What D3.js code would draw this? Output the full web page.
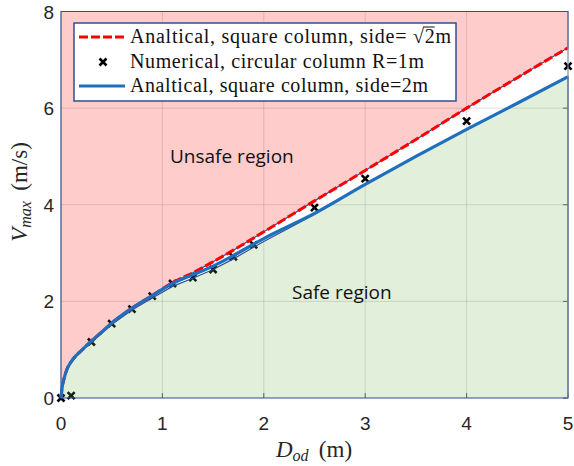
<!DOCTYPE html>
<html>
<head>
<meta charset="utf-8">
<script src="https://cdn.jsdelivr.net/npm/d3@7"></script>
<style>
  body { margin: 0; background: #fff; }
  svg { display: block; }
</style>
</head>
<body>
<div id="chart"></div>
<script>
// Données
const dCourbe = [0, 0.01, 0.03, 0.06, 0.1, 0.15, 0.2, 0.3, 0.4, 0.5, 0.7, 0.9, 1.1, 1.3, 1.5, 1.7, 2, 2.5, 3, 3.5, 4, 4.5, 5];
const vCarreRacine2 = [0, 0.2, 0.4, 0.6, 0.75, 0.88, 0.98, 1.18, 1.36, 1.55, 1.86, 2.12, 2.39, 2.59, 2.82, 3.06, 3.44, 4.08, 4.71, 5.35, 6.0, 6.63, 7.25];
const vCarre2 = [0, 0.2, 0.4, 0.6, 0.75, 0.88, 0.98, 1.18, 1.36, 1.55, 1.86, 2.12, 2.37, 2.55, 2.73, 2.95, 3.3, 3.82, 4.42, 5.0, 5.56, 6.1, 6.65];
const vBordSur = [0, 0.2, 0.4, 0.6, 0.75, 0.88, 0.98, 1.16, 1.34, 1.52, 1.82, 2.07, 2.31, 2.48, 2.66, 2.88, 3.24, 3.8, 4.42, 5.0, 5.56, 6.1, 6.65];
const dNum = [0, 0.1, 0.3, 0.5, 0.7, 0.9, 1.1, 1.3, 1.5, 1.7, 1.9, 2.5, 3, 4, 5];
const vNum = [0, 0.05, 1.16, 1.54, 1.84, 2.11, 2.37, 2.49, 2.66, 2.92, 3.17, 3.94, 4.54, 5.73, 6.87];
const xTicks = [0, 1, 2, 3, 4, 5];
const yTicks = [0, 2, 4, 6, 8];
const legende = ["Analtical, square column, side= ", "Numerical, circular column R=1m", "Analtical, square column, side=2m"];

const W = 574, H = 466;
const bord = "#2f4f94";

const svg = d3.select("#chart").append("svg").attr("width", W).attr("height", H);

const x = d3.scaleLinear().domain([0, 5]).range([61, 568]);
const y = d3.scaleLinear().domain([0, 8]).range([398, 11.5]);

const pts = (xs, ys) => xs.map((d, i) => [d, ys[i]]);

// grille
const g = svg.append("g");
g.selectAll(".gx").data(xTicks.slice(1, -1)).enter().append("line")
    .attr("x1", d => x(d)).attr("x2", d => x(d)).attr("y1", y(0)).attr("y2", y(8))
    .attr("stroke", "#000").attr("stroke-opacity", 0.13).attr("stroke-width", 1);
g.selectAll(".gy").data(yTicks.slice(1, -1)).enter().append("line")
    .attr("x1", x(0)).attr("x2", x(5)).attr("y1", d => y(d)).attr("y2", d => y(d))
    .attr("stroke", "#000").attr("stroke-opacity", 0.13).attr("stroke-width", 1);

// marqueurs (sous les zones colorées)
const croix = svg.append("g");
pts(dNum, vNum).forEach(p => {
    const cx = x(p[0]), cy = y(p[1]), s = 3.5;
    croix.append("path")
        .attr("d", `M${cx - s},${cy - s}L${cx + s},${cy + s}M${cx - s},${cy + s}L${cx + s},${cy - s}`)
        .attr("stroke", "#000").attr("stroke-width", 2.6).attr("fill", "none");
});

// zone non sûre
const haut = pts(dCourbe, vCarreRacine2);
const zoneRouge = [[0, 8]].concat(haut).concat([[5, 8]]);
const ligne = d3.line().x(d => x(d[0])).y(d => y(d[1]));
svg.append("path").attr("d", ligne(zoneRouge) + "Z")
    .attr("fill", "#ff0000").attr("fill-opacity", 0.2)
    .attr("stroke", bord).attr("stroke-width", 1.2);

// zone sûre
const bas = pts(dCourbe, vBordSur);
const zoneVerte = bas.concat([[5, 0]]);
svg.append("path").attr("d", ligne(zoneVerte) + "Z")
    .attr("fill", "#70ad47").attr("fill-opacity", 0.2)
    .attr("stroke", bord).attr("stroke-width", 1.2);

// courbes
const courbe = d3.line().x(d => x(d[0])).y(d => y(d[1])).curve(d3.curveMonotoneX);
svg.append("path").attr("d", courbe(haut))
    .attr("fill", "none").attr("stroke", "#ff0000").attr("stroke-width", 3)
    .attr("stroke-dasharray", "9,3");
svg.append("path").attr("d", courbe(pts(dCourbe, vCarre2)))
    .attr("fill", "none").attr("stroke", "#1f6fbf").attr("stroke-width", 3.2);

// cadre + graduations
svg.append("line").attr("x1", x(5)).attr("x2", x(5)).attr("y1", y(8)).attr("y2", y(0))
    .attr("stroke", "#7a8aa8").attr("stroke-width", 1.2);
g.selectAll(".tx").data(xTicks).enter().append("line")
    .attr("x1", d => x(d)).attr("x2", d => x(d)).attr("y1", y(0)).attr("y2", y(0) - 5)
    .attr("stroke", "#555");
g.selectAll(".ty").data(yTicks).enter().append("line")
    .attr("x1", x(5)).attr("x2", x(5) - 5).attr("y1", d => y(d)).attr("y2", d => y(d))
    .attr("stroke", "#555");

svg.selectAll(".lx").data(xTicks).enter().append("text")
    .attr("x", d => x(d)).attr("y", 430)
    .attr("text-anchor", "middle")
    .style("font-family", "Liberation Sans, Arial, sans-serif").style("font-size", "19px").style("fill", "#262626")
    .text(d => d);
svg.selectAll(".ly").data(yTicks).enter().append("text")
    .attr("x", 54).attr("y", d => y(d) + 7)
    .attr("text-anchor", "end")
    .style("font-family", "Liberation Sans, Arial, sans-serif").style("font-size", "19px").style("fill", "#262626")
    .text(d => d);

// titres des axes
const serif = "Liberation Serif, serif";
const tx = svg.append("text").attr("x", 314).attr("y", 457).attr("text-anchor", "middle")
    .style("font-family", serif).style("font-size", "23px").style("fill", "#262626");
tx.append("tspan").style("font-style", "italic").text("D");
tx.append("tspan").style("font-style", "italic").style("font-size", "16px").attr("dy", 4).text("od");
tx.append("tspan").attr("dy", -4).text("\u2009 (m)");

const ty = svg.append("text").attr("transform", "translate(27,192) rotate(-90)").attr("text-anchor", "middle")
    .style("font-family", serif).style("font-size", "23px").style("fill", "#262626");
ty.append("tspan").style("font-style", "italic").text("V");
ty.append("tspan").style("font-style", "italic").style("font-size", "16px").attr("dy", 4).text("max");
ty.append("tspan").attr("dy", -4).text("\u2009 (m/s)");

// étiquettes de régions
svg.append("text").attr("x", 170).attr("y", 163)
    .style("font-family", "Open Sans, Calibri, sans-serif").style("font-size", "19px").style("fill", "#111")
    .text("Unsafe region");
svg.append("text").attr("x", 292).attr("y", 299)
    .style("font-family", "Open Sans, Calibri, sans-serif").style("font-size", "19px").style("fill", "#111")
    .text("Safe region");

// légende
const leg = svg.append("g");
leg.append("rect").attr("x", 74).attr("y", 23).attr("width", 382).attr("height", 78)
    .attr("fill", "#fff").attr("stroke", bord).attr("stroke-width", 1.5);
const rangs = [37, 62, 86];
const longueurs = [321, 294, 298];
leg.append("line").attr("x1", 79).attr("x2", 125).attr("y1", rangs[0]).attr("y2", rangs[0])
    .attr("stroke", "#ff0000").attr("stroke-width", 3).attr("stroke-dasharray", "9,3");
leg.append("path").attr("d", "M99.5,58.5L106.5,65.5M99.5,65.5L106.5,58.5")
    .attr("stroke", "#000").attr("stroke-width", 2.6);
leg.append("line").attr("x1", 79).attr("x2", 125).attr("y1", rangs[2]).attr("y2", rangs[2])
    .attr("stroke", "#1f6fbf").attr("stroke-width", 3.2);
legende.forEach((t, i) => {
    const e = leg.append("text").attr("x", 130).attr("y", rangs[i] + 6)
        .attr("textLength", longueurs[i]).attr("lengthAdjust", "spacing")
        .style("font-family", "Liberation Serif, serif").style("font-size", "20px").style("fill", "#111")
        .text(t);
    if (i == 0) {
        e.append("tspan").text("\u221A2m");
        // barre de la racine au-dessus du 2
        const n = t.length;
        const r = e.node().getExtentOfChar(n);
        const deux = e.node().getExtentOfChar(n + 1);
        leg.append("line")
            .attr("x1", r.x + r.width - 1).attr("x2", deux.x + deux.width)
            .attr("y1", r.y + 2).attr("y2", r.y + 2)
            .attr("stroke", "#111").attr("stroke-width", 1);
    }
});
</script>
</body>
</html>
